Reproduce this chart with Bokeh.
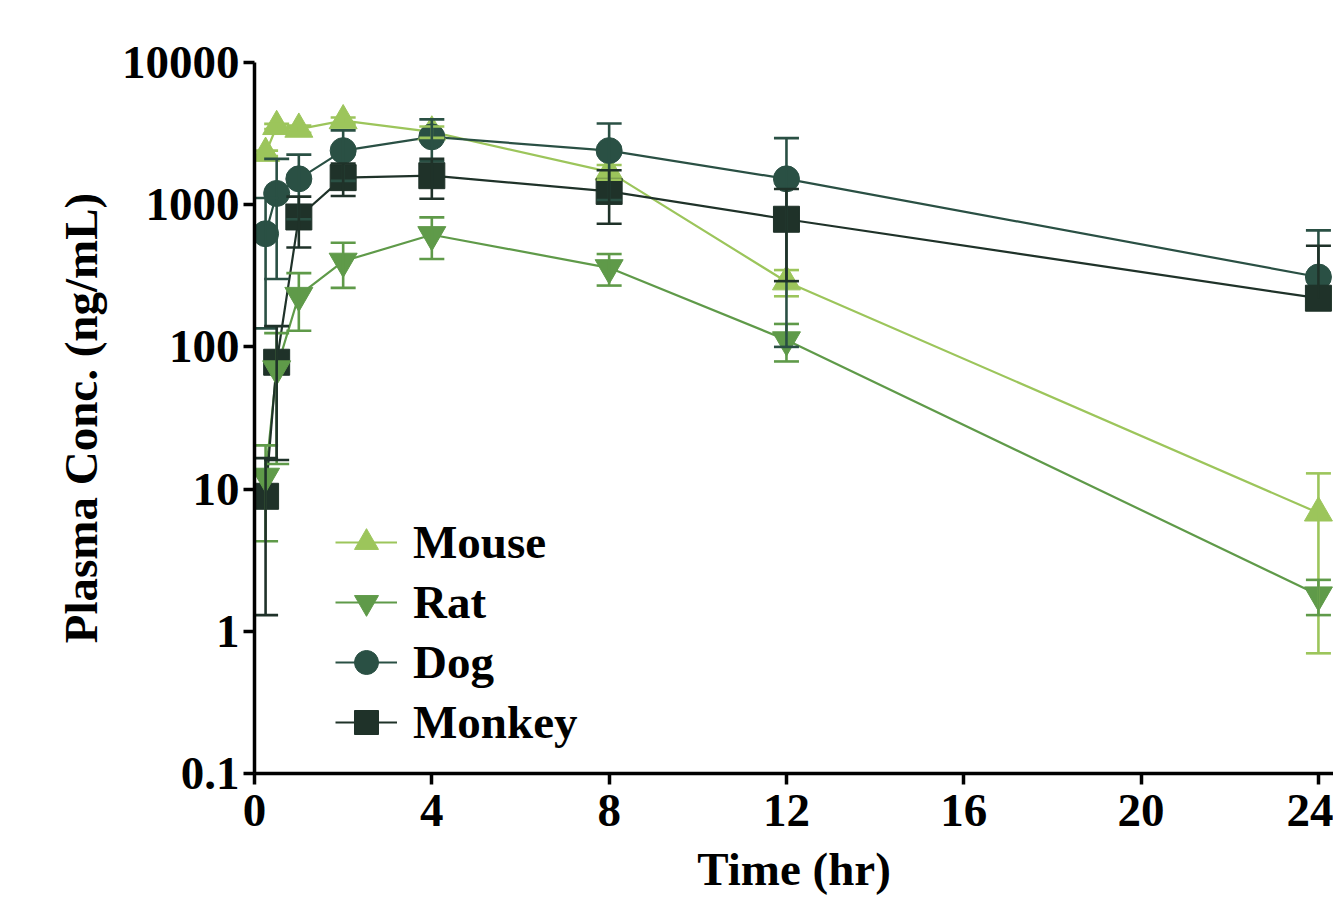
from bokeh.plotting import figure
from bokeh.models import (FixedTicker, CustomJSTickFormatter, Range1d, Legend, LegendItem)
from bokeh.embed import file_html
from bokeh.resources import INLINE

# ---- data ----
times = [0.25, 0.5, 1, 2, 4, 8, 12, 24]

mouse_mean = [2300, 3550, 3400, 3900, 3250, 1700, 287, 6.8]
mouse_sd = [100, 150, 200, 200, 300, 200, 60, 6.1]

rat_mean = [12.3, 70, 230, 400, 615, 360, 112, 1.8]
rat_sd = [8, 55, 100, 140, 200, 90, 33, 0.5]

dog_mean = [625, 1200, 1520, 2400, 3000, 2400, 1520, 310]
dog_sd = [490, 900, 730, 930, 980, 1320, 1420, 350]

monkey_mean = [8.9, 78, 820, 1550, 1600, 1240, 790, 220]
monkey_sd = [7.6, 62, 320, 400, 500, 505, 500, 295]

x_ticks = [0, 4, 8, 12, 16, 20, 24]
y_ticks = [0.1, 1, 10, 100, 1000, 10000]

names = ["Mouse", "Rat", "Dog", "Monkey"]
means = [mouse_mean, rat_mean, dog_mean, monkey_mean]
sds = [mouse_sd, rat_sd, dog_sd, monkey_sd]
colors = ["#9CC55B", "#5F9A49", "#2A5044", "#1F3229"]
markers = ["triangle", "inverted_triangle", "circle", "square"]
sizes = [28, 28, 26, 26]

FONT = "Liberation Serif"
FS = "47px"

p = figure(width=1333, height=898, x_range=Range1d(0, 24.34),
           y_range=Range1d(0.1, 10000), y_axis_type="log",
           output_backend="svg", toolbar_location=None,
           min_border_left=254, min_border_right=0,
           min_border_top=62, min_border_bottom=125)
p.outline_line_color = None
p.grid.visible = False
p.background_fill_color = "white"

# lines
line_r = {}
for n, m, c in zip(names, means, colors):
    line_r[n] = p.line(times, m, line_color=c, line_width=2.2)

# markers (drawing order: Mouse, Dog, Monkey, Rat)
mark_r = {}
for idx in [0, 2, 3, 1]:
    n, m, c = names[idx], means[idx], colors[idx]
    mark_r[n] = p.scatter(times, m, marker=markers[idx], size=sizes[idx],
                          fill_color=c, line_color=c, line_width=1)

# error bars on top
for n, m, s, c in zip(names, means, sds, colors):
    up = [a + b for a, b in zip(m, s)]
    lo = [a - b for a, b in zip(m, s)]
    lo_vis = [l if l > 0 else a for l, a in zip(lo, m)]
    p.segment(x0=times, y0=lo_vis, x1=times, y1=up, line_color=c, line_width=2.6)
    p.scatter(times, up, marker="dash", size=25, line_color=c, line_width=2.6)
    lx = [t for t, l in zip(times, lo) if l > 0]
    ly = [l for l in lo if l > 0]
    p.scatter(lx, ly, marker="dash", size=25, line_color=c, line_width=2.6)

# axes
for ax in (p.xaxis[0], p.yaxis[0]):
    ax.axis_line_width = 3.5
    ax.axis_line_color = "black"
    ax.major_tick_line_width = 3.5
    ax.major_tick_out = 11
    ax.major_tick_in = 0
    ax.minor_tick_line_color = None
    ax.major_label_text_font = FONT
    ax.major_label_text_font_style = "bold"
    ax.major_label_text_font_size = FS
    ax.major_label_text_color = "black"
    ax.axis_label_text_font = FONT
    ax.axis_label_text_font_style = "bold"
    ax.axis_label_text_font_size = FS
    ax.axis_label_text_color = "black"

p.xaxis[0].ticker = FixedTicker(ticks=x_ticks)
p.xaxis[0].major_label_standoff = 10
p.xaxis[0].axis_label = "Time (hr)"
p.xaxis[0].axis_label_standoff = 14

p.yaxis[0].ticker = FixedTicker(ticks=y_ticks, minor_ticks=[])
p.yaxis[0].formatter = CustomJSTickFormatter(
    code="return tick < 1 ? tick.toFixed(1) : tick.toFixed(0);")
p.yaxis[0].major_label_standoff = 4
p.yaxis[0].axis_label = "Plasma Conc. (ng/mL)"
p.yaxis[0].axis_label_standoff = 12

legend = Legend(
    items=[LegendItem(label=n, renderers=[line_r[n], mark_r[n]]) for n in names],
    location=(81, 21), glyph_width=62, glyph_height=60, label_height=60,
    spacing=0, padding=0, margin=0, border_line_color=None,
    background_fill_alpha=0, label_standoff=16,
    label_text_font=FONT, label_text_font_style="bold",
    label_text_font_size=FS, label_text_color="black")
p.add_layout(legend)

open("out.html", "w").write(file_html(p, INLINE))
